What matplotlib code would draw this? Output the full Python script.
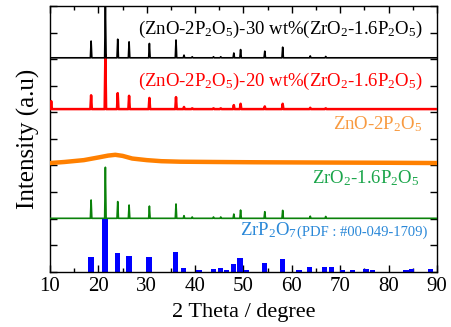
import numpy as np
import matplotlib
matplotlib.use("Agg")
import matplotlib.pyplot as plt
from matplotlib.ticker import MultipleLocator, NullFormatter

plt.rcParams['font.family'] = ['Liberation Serif', 'DejaVu Serif']
plt.rcParams['mathtext.fontset'] = 'custom'
plt.rcParams['mathtext.rm'] = 'Liberation Serif'
plt.rcParams['mathtext.it'] = 'Liberation Serif:italic'

# peak positions (2theta) shared by the crystalline samples
peaks_2theta = [10.25, 18.5, 21.45, 24.0, 26.35, 30.55, 36.05, 37.7, 39.4, 43.8,
                45.3, 48.0, 49.4, 54.4, 58.1, 63.8, 67.0]
black_h = [0.0, 0.63, 2.10, 0.70, 0.60, 0.54, 0.67, 0.10, 0.04, 0.04,
           0.04, 0.18, 0.31, 0.25, 0.40, 0.07, 0.05]
red_h = [0.30, 0.52, 2.06, 0.60, 0.50, 0.42, 0.45, 0.08, 0.03, 0.03,
         0.03, 0.15, 0.20, 0.10, 0.20, 0.05, 0.03]
green_h = [0.0, 0.69, 1.92, 0.63, 0.50, 0.46, 0.54, 0.10, 0.05, 0.05,
           0.05, 0.16, 0.31, 0.25, 0.30, 0.08, 0.07]
black_base = 8.05
red_base = 6.12
green_base = 2.01

# amorphous ZnO-2P2O5 trace
orange_2theta = [10, 13, 17, 20, 22, 23.5, 25, 27, 30, 33, 37, 44, 52, 65, 80, 90]
orange_i = [4.09, 4.13, 4.20, 4.30, 4.37, 4.40, 4.36, 4.26, 4.20, 4.16, 4.14,
            4.13, 4.12, 4.11, 4.10, 4.09]

# ZrP2O7 reference pattern (PDF #00-049-1709)
ref_2theta = [18.45, 21.37, 23.9, 26.33, 30.5, 36.0, 37.66, 40.8, 43.8, 45.2,
              46.5, 48.0, 49.3, 50.6, 54.35, 58.0, 61.5, 63.7, 66.8, 68.2,
              70.5, 72.5, 75.3, 76.6, 83.6, 84.8, 88.7]
ref_h = [0.55, 2.0, 0.69, 0.60, 0.57, 0.75, 0.15, 0.07, 0.10, 0.15,
         0.08, 0.28, 0.50, 0.08, 0.31, 0.48, 0.07, 0.18, 0.17, 0.17,
         0.07, 0.06, 0.10, 0.08, 0.07, 0.12, 0.10]


def trace(base, heights, w=0.15):
    xs, ys = [10], [base]
    for p, h in zip(peaks_2theta, heights):
        if h <= 0:
            continue
        xs += [p - w, p, p + w]
        ys += [base, base + h, base]
    xs.append(90)
    ys.append(base)
    return xs, ys


fig = plt.figure(figsize=(4.52, 3.27), dpi=100)
ax = fig.add_axes([0.1106, 0.169, 0.8562, 0.8127])

ax.bar(ref_2theta, ref_h, width=1.1, color='#0000ff', zorder=2)
x, y = trace(green_base, green_h)
ax.plot(x, y, color='#0a820a', lw=1.2, zorder=3)
ax.plot(orange_2theta, orange_i, color='#ff8000', lw=3.2, zorder=3)
x, y = trace(red_base, red_h)
ax.plot(x, y, color='#ff0000', lw=1.8, zorder=3)
x, y = trace(black_base, black_h)
ax.plot(x, y, color='#000000', lw=1.2, zorder=3)

fs = 13.5
ax.text(87.1, 8.95, r'(ZnO-2P$_\mathregular{2}$O$_\mathregular{5}$)-30 wt%(ZrO$_\mathregular{2}$-1.6P$_\mathregular{2}$O$_\mathregular{5}$)',
        ha='right', va='baseline', fontsize=fs, color='#000000')
ax.text(87.1, 7.0, r'(ZnO-2P$_\mathregular{2}$O$_\mathregular{5}$)-20 wt%(ZrO$_\mathregular{2}$-1.6P$_\mathregular{2}$O$_\mathregular{5}$)',
        ha='right', va='baseline', fontsize=fs, color='#ff0000')
ax.text(87.0, 5.35, r'ZnO-2P$_\mathregular{2}$O$_\mathregular{5}$',
        ha='right', va='baseline', fontsize=fs, color='#f89a40')
ax.text(86.3, 3.34, r'ZrO$_\mathregular{2}$-1.6P$_\mathregular{2}$O$_\mathregular{5}$',
        ha='right', va='baseline', fontsize=fs, color='#1aa54a')
ax.text(61.1, 1.36, r'ZrP$_\mathregular{2}$O$_\mathregular{7}$',
        ha='right', va='baseline', fontsize=fs, color='#2a88d8')
ax.text(61.1, 1.36, '(PDF : #00-049-1709)',
        ha='left', va='baseline', fontsize=10.5, color='#2a88d8')

ax.set_xlim(10, 90)
ax.set_ylim(0, 10)
ax.xaxis.set_major_locator(MultipleLocator(10))
ax.xaxis.set_minor_locator(MultipleLocator(5))
ax.yaxis.set_major_locator(MultipleLocator(1))
ax.yaxis.set_major_formatter(NullFormatter())
ax.tick_params(which='both', direction='in', top=True, right=True, width=1.0)
ax.tick_params(which='major', length=5)
ax.tick_params(which='minor', length=3)
ax.tick_params(axis='x', labelsize=15, pad=4)
for s in ax.spines.values():
    s.set_linewidth(1.0)

ax.set_xlabel('2 Theta / degree', fontsize=16, labelpad=5)
ax.set_ylabel('Intensity (a.u)', fontsize=18, labelpad=4)

fig.savefig('out.png', dpi=100)
